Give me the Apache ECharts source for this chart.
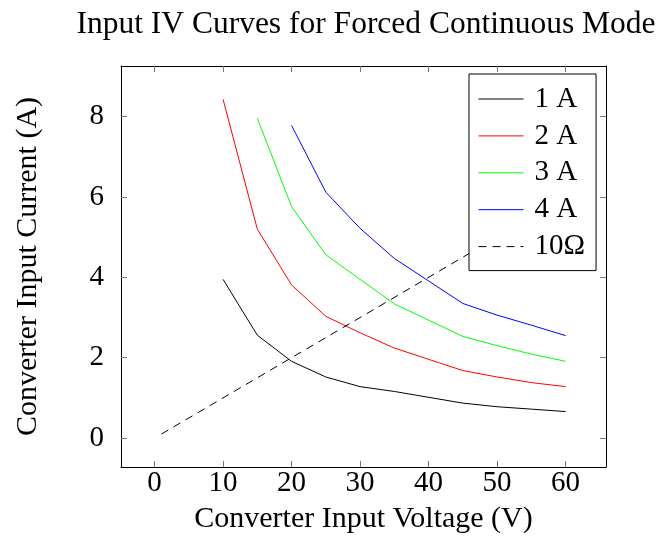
<!DOCTYPE html>
<html>
<head>
<meta charset="utf-8">
<script src="https://cdn.jsdelivr.net/npm/echarts@6/dist/echarts.min.js"></script>
<style>html,body{margin:0;padding:0;background:#fff}#c{width:658px;height:548px}</style>
</head>
<body>
<div id="c"></div>
<script>
var voltages = [10, 15, 20, 25, 30, 35, 45, 50, 55, 60];
var current1A = [3.95, 2.56, 1.91, 1.52, 1.28, 1.16, 0.87, 0.78, 0.72, 0.66];
var current2A = [8.43, 5.20, 3.81, 3.03, 2.62, 2.24, 1.68, 1.52, 1.38, 1.28];
var current3A = [null, 7.96, 5.76, 4.56, 3.95, 3.34, 2.53, 2.30, 2.09, 1.91];
var current4A = [null, null, 7.78, 6.12, 5.22, 4.47, 3.35, 3.06, 2.81, 2.55];
var loadVoltages = [1, 60];
var loadCurrents = [0.1, 6.0];
var seriesNames = ['1 A', '2 A', '3 A', '4 A', '10\u03A9'];
var xTicks = [0, 10, 20, 30, 40, 50, 60];
var yTicks = [0, 2, 4, 6, 8];

function pairs(xs, ys) {
  var out = [];
  for (var i = 0; i < xs.length; i++) { if (ys[i] != null) out.push([xs[i], ys[i]]); }
  return out;
}

var FONT = 'Liberation Serif';
var chart = echarts.init(document.getElementById('c'));
var axisLineStyle = { color: '#000', width: 1 };
var tickStyle = { color: '#777', width: 1 };
var xBase = {
  type: 'value', min: -4.9, max: 65.9,
  axisLine: { show: true, onZero: false, lineStyle: axisLineStyle },
  splitLine: { show: false },
  axisTick: { show: true, inside: true, length: 6, lineStyle: tickStyle, customValues: xTicks }
};
var yBase = {
  type: 'value', min: -0.72, max: 9.26,
  axisLine: { show: true, onZero: false, lineStyle: axisLineStyle },
  splitLine: { show: false },
  axisTick: { show: true, inside: true, length: 6, lineStyle: tickStyle, customValues: yTicks }
};
var colors = ['#000000', '#ff0000', '#00ff00', '#0000ff', '#000000'];
var datasets = [pairs(voltages, current1A), pairs(voltages, current2A), pairs(voltages, current3A), pairs(voltages, current4A), pairs(loadVoltages, loadCurrents)];
var series = datasets.map(function (d, i) {
  return {
    name: seriesNames[i], type: 'line', data: d, symbol: 'none', smooth: false,
    xAxisIndex: 0, yAxisIndex: 0,
    lineStyle: { color: colors[i], width: 1, type: i === 4 ? [8, 6] : 'solid' },
    itemStyle: { color: colors[i] },
    emphasis: { disabled: true }, animation: false
  };
});

chart.setOption({
  animation: false,
  title: {
    text: 'Input IV Curves for Forced Continuous Mode',
    left: 361, top: 4, textAlign: 'center',
    textStyle: { fontFamily: FONT, fontSize: 31.5, fontWeight: 'normal', color: '#000' }
  },
  grid: { left: 121, top: 66, width: 485, height: 401, containLabel: false, outerBoundsMode: 'none' },
  legend: {
    data: seriesNames, orient: 'vertical', left: 469, top: 74,
    backgroundColor: '#fff', borderColor: '#000', borderWidth: 1, borderRadius: 0,
    padding: [10, 11, 9, 9], itemWidth: 45, itemHeight: 10, itemGap: 6.9,
    itemStyle: { opacity: 0 },
    lineStyle: { width: 1 },
    textStyle: { fontFamily: FONT, fontSize: 29, color: '#000', lineHeight: 30, padding: [0, 0, 0, 6] },
    z: 10
  },
  xAxis: [
    Object.assign({}, xBase, {
      position: 'bottom',
      name: 'Converter Input Voltage (V)', nameLocation: 'middle', nameGap: 37,
      nameTextStyle: { fontFamily: FONT, fontSize: 30, color: '#000' },
      axisLabel: { show: true, margin: 2, fontFamily: FONT, fontSize: 29, color: '#000', customValues: xTicks }
    }),
    Object.assign({}, xBase, { position: 'top', axisLabel: { show: false } })
  ],
  yAxis: [
    Object.assign({}, yBase, {
      position: 'left',
      name: 'Converter Input Current (A)', nameLocation: 'middle', nameGap: 78,
      nameTextStyle: { fontFamily: FONT, fontSize: 30, color: '#000' },
      axisLabel: { show: true, margin: 17, fontFamily: FONT, fontSize: 29, color: '#000', customValues: yTicks }
    }),
    Object.assign({}, yBase, { position: 'right', axisLabel: { show: false } })
  ],
  series: series
});
</script>
</body>
</html>
